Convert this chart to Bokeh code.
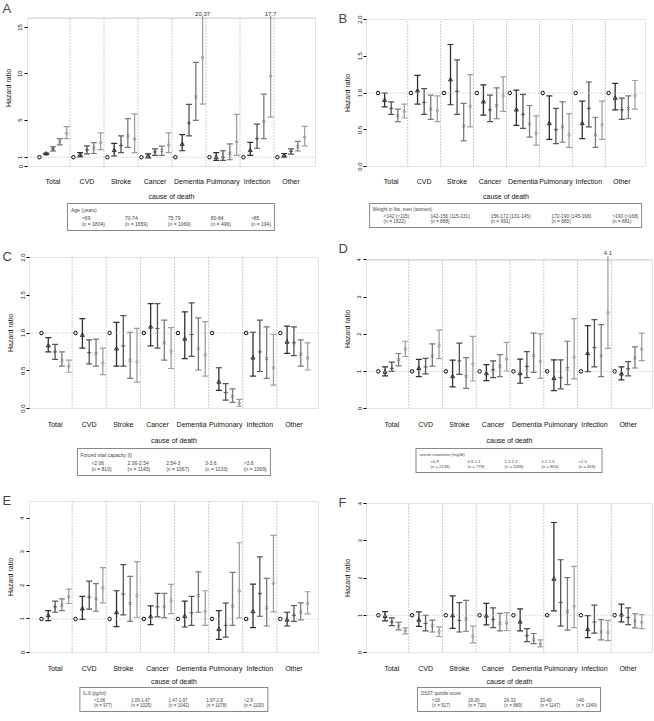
import numpy as np
from bokeh.plotting import figure
from bokeh.layouts import column, row
from bokeh.models import (FixedTicker, Legend, LegendItem, BoxAnnotation, Span,
                          PrintfTickFormatter)
from bokeh.embed import file_html
from bokeh.resources import INLINE
from bokeh.core.properties import value

FONT = "Liberation Sans"
causes = ["Total", "CVD", "Stroke", "Cancer", "Dementia", "Pulmonary", "Infection", "Other"]
COLORS = ["#000000", "#303030", "#555555", "#7a7a7a", "#a0a0a0"]
MARKERS = ["circle", "triangle", "cross", "x", "diamond"]
N = None

# ---------------- Panel A: age ----------------
A_hr = [[1, 1.37, 1.90, 2.67, 3.57], [1, 1.27, 1.80, 1.97, 2.57], [1, 1.73, 2.27, 3.30, 2.97],
        [1, 1.13, 1.57, 1.70, 2.33], [1, 2.40, 4.70, 7.50, 11.73], [1, 0.97, 1.00, 1.43, 2.67],
        [1, 1.73, 3.00, 4.83, 9.73], [1, 1.20, 1.63, 2.17, 3.13]]
A_lo = [[N, 1.30, 1.67, 2.33, 3.00], [N, 1.03, 1.37, 1.40, 1.83], [N, 1.13, 1.50, 2.07, 1.50],
        [N, 0.93, 1.20, 1.20, 1.50], [N, 1.70, 3.30, 4.97, 6.73], [N, 0.67, 0.67, 0.73, 1.20],
        [N, 1.20, 1.97, 3.00, 5.33], [N, 1.00, 1.33, 1.67, 2.23]]
A_hi = [[N, 1.45, 2.13, 3.00, 4.30], [N, 1.50, 2.23, 2.57, 3.63], [N, 2.50, 3.30, 5.17, 5.67],
        [N, 1.37, 1.90, 2.20, 3.63], [N, 3.43, 6.70, 11.23, 20.37], [N, 1.50, 1.70, 2.43, 5.63],
        [N, 2.60, 4.57, 7.80, 17.7], [N, 1.40, 1.90, 2.70, 4.33]]
A_groups = ["<69\n(n = 1804)", "70-74\n(n = 1659)", "75-79\n(n = 1069)", "80-84\n(n = 496)", ">85\n(n = 194)"]
A_title = "Age (years)"
A_ticks = [0, 1, 5, 10, 15]

# ---------------- Panel B: weight ----------------
B_hr = [[1, .90, .79, .69, .75], [1, 1.03, .87, .78, .76], [1, 1.18, 1.02, .55, .82],
        [1, .88, .77, .83, .96], [1, .77, .71, .58, .45], [1, .585, .50, .54, .43],
        [1, .585, .79, .43, .57], [1, .93, .77, .79, .96]]
B_lo = [[N, .81, .71, .61, .66], [N, .85, .71, .64, .61], [N, .84, .71, .35, .54],
        [N, .70, .61, .65, .75], [N, .56, .52, .40, .29], [N, .37, .31, .33, .26],
        [N, .38, .54, .26, .37], [N, .77, .64, .65, .78]]
B_hi = [[N, 1.00, .88, .78, .85], [N, 1.24, 1.06, .97, .96], [N, 1.66, 1.45, .86, 1.25],
        [N, 1.11, .97, 1.07, 1.22], [N, 1.04, .98, .83, .69], [N, .96, .79, .88, .72],
        [N, .89, 1.15, .67, .89], [N, 1.13, .93, .96, 1.17]]
B_groups = ["<142 (<115)\n(n = 1622)", "142-156 (115-131)\n(n = 888)", "156-172 (131-145)\n(n = 991)",
            "172-190 (145-168)\n(n = 880)", ">190 (>168)\n(n = 881)"]
B_title = "Weight in lbs, men (women)"
B_ticks = [0, 0.5, 1.0, 1.5, 2.0]

# ---------------- Panel C: FVC ----------------
C_hr = [[1, .83, .75, .64, .56], [1, .97, .74, .73, .60], [1, .79, .83, .64, .62],
        [1, 1.08, 1.06, .87, .76], [1, .92, .98, .79, .71], [1, .35, .21, .16, .07],
        [1, .67, .75, .66, .54], [1, .88, .87, .72, .67]]
C_lo = [[N, .75, .65, .56, .48], [N, .80, .59, .56, .45], [N, .56, .56, .40, .35],
        [N, .83, .80, .64, .53], [N, .66, .69, .51, .43], [N, .24, .11, .08, .03],
        [N, .43, .49, .40, .31], [N, .73, .70, .56, .51]]
C_hi = [[N, .94, .85, .75, .64], [N, 1.19, .91, .92, .80], [N, 1.14, 1.23, 1.01, 1.06],
        [N, 1.39, 1.39, 1.17, 1.07], [N, 1.28, 1.40, 1.20, 1.15], [N, .54, .33, .26, .12],
        [N, 1.01, 1.17, 1.08, .98], [N, 1.09, 1.08, .91, .87]]
C_groups = ["<2.06\n(n = 810)", "2.06-2.54\n(n = 1143)", "2.54-3\n(n = 1067)", "3-3.6\n(n = 1133)", ">3.6\n(n = 1069)"]
C_title = "Forced vital capacity (l)"
C_ticks = [0, 0.5, 1.0, 1.5, 2.0]

# ---------------- Panel D: creatinine ----------------
D_hr = [[1, .98, 1.08, 1.31, 1.60], [1, 1.08, 1.12, 1.41, 1.69], [1, .86, 1.28, .86, 1.20],
        [1, .94, 1.04, 1.14, 1.33], [1, .94, 1.13, 1.42, 1.27], [1, .81, .83, 1.08, 1.38],
        [1, 1.48, 1.64, 1.42, 2.58], [1, .93, 1.07, 1.36, 1.60]]
D_lo = [[N, .88, 1.00, 1.15, 1.40], [N, .86, .93, 1.14, 1.34], [N, .58, .92, .54, .74],
        [N, .75, .83, .86, 1.01], [N, .68, .83, .97, .81], [N, .48, .53, .64, .80],
        [N, .99, 1.12, .86, 1.62], [N, .77, .88, 1.09, 1.29]]
D_hi = [[N, 1.12, 1.25, 1.48, 1.81], [N, 1.32, 1.35, 1.74, 2.11], [N, 1.30, 1.76, 1.37, 1.94],
        [N, 1.18, 1.28, 1.45, 1.78], [N, 1.33, 1.53, 2.03, 2.01], [N, 1.31, 1.31, 1.81, 2.42],
        [N, 2.23, 2.39, 2.26, 4.1], [N, 1.12, 1.26, 1.66, 2.03]]
D_groups = ["<0.9\n(n = 2138)", "0.9-1.1\n(n = 778)", "1.1-1.2\n(n = 1186)", "1.2-1.5\n(n = 864)", ">1.5\n(n = 458)"]
D_title = "serum creatinine (mg/dl)"
D_ticks = [0, 1, 2, 3, 4]

# ---------------- Panel E: IL-6 ----------------
E_hr = [[1, 1.10, 1.36, 1.41, 1.66], [1, 1.30, 1.65, 1.60, 1.93], [1, 1.19, 1.74, 1.46, 1.70],
        [1, 1.07, 1.36, 1.36, 1.54], [1, 1.08, 1.18, 1.70, 1.22], [1, .69, .81, 1.38, 1.83],
        [1, 1.22, 1.76, 1.33, 2.06], [1, .97, 1.11, 1.20, 1.46]]
E_lo = [[N, .95, 1.20, 1.25, 1.46], [N, .99, 1.29, 1.23, 1.48], [N, .77, 1.12, .93, 1.05],
        [N, .83, 1.06, 1.04, 1.16], [N, .76, .81, 1.20, .81], [N, .39, .46, .81, 1.03],
        [N, .74, 1.08, .79, 1.21], [N, .79, .93, .97, 1.15]]
E_hi = [[N, 1.25, 1.53, 1.60, 1.89], [N, 1.67, 2.13, 2.05, 2.53], [N, 1.84, 2.62, 2.27, 2.71],
        [N, 1.39, 1.76, 1.76, 2.03], [N, 1.53, 1.67, 2.40, 1.84], [N, 1.25, 1.47, 2.39, 3.27],
        [N, 2.04, 2.85, 2.21, 3.49], [N, 1.20, 1.40, 1.48, 1.81]]
E_groups = ["<1.06\n(n = 977)", "1.06-1.47\n(n = 1025)", "1.47-1.97\n(n = 1042)", "1.97-2.9\n(n = 1078)", ">2.9\n(n = 1100)"]
E_title = "IL-6 (pg/ml)"
E_ticks = [0, 1, 2, 3, 4]

# ---------------- Panel F: DSST ----------------
F_hr = [[1, .97, .82, .71, .58], [1, .87, .78, .71, .56], [1, .99, .86, .90, .43],
        [1, .98, .89, .78, .79], [1, .82, .45, .34, .23], [1, 1.97, 1.34, 1.10, 1.24],
        [1, .62, .82, .55, .54], [1, 1.01, .94, .84, .81]]
F_lo = [[N, .85, .72, .61, .50], [N, .70, .58, .55, .43], [N, .65, .55, .57, .26],
        [N, .74, .67, .58, .59], [N, .58, .29, .24, .15], [N, 1.12, .71, .60, .67],
        [N, .40, .52, .34, .32], [N, .82, .75, .66, .64]]
F_hi = [[N, 1.10, .93, .81, .66], [N, 1.09, 1.00, .87, .69], [N, 1.52, 1.34, 1.40, .71],
        [N, 1.32, 1.20, 1.05, 1.07], [N, 1.17, .64, .51, .34], [N, 3.49, 2.49, 2.01, 2.31],
        [N, .99, 1.27, .88, .86], [N, 1.30, 1.20, 1.04, 1.02]]
F_groups = ["<18\n(n = 517)", "18-26\n(n = 720)", "26-33\n(n = 889)", "33-40\n(n = 1147)", ">40\n(n = 1949)"]
F_title = "DSST quintile score"
F_ticks = [0, 1, 2, 3, 4]

X0, X1 = -0.75, 41.6


def make_panel(letter, hr, lo, hi, groups, title, ticks, fmt, ymax, box_top, clip,
               width, height, mbl, mbr, mbt, mbb, loff, lfs, lsp, leg_h, leg_m, xs1, xs2):
    p = figure(width=width, height=height, output_backend="svg", toolbar_location=None,
               x_range=(X0, X1), y_range=(0, ymax),
               min_border_left=mbl, min_border_right=mbr, min_border_top=mbt, min_border_bottom=mbb)
    p.outline_line_color = None
    p.xgrid.visible = False
    p.ygrid.visible = False

    ncat = len(causes)
    sep_x = [c * 5 + 5.5 for c in range(ncat - 1)]
    p.segment(x0=sep_x, y0=[0] * len(sep_x), x1=sep_x, y1=[box_top] * len(sep_x),
              line_color="#9a9a9a", line_dash="1 2", line_width=1)
    p.add_layout(Span(location=1, dimension="width", line_color="#b5b5b5",
                      line_dash="1 2", line_width=1))

    lf = figure(width=width, height=leg_h, output_backend="svg", toolbar_location=None,
                x_range=(0, 1), y_range=(0, 1), x_axis_location=None, y_axis_location=None,
                min_border_left=mbl, min_border_right=mbr, min_border_top=0, min_border_bottom=0)
    lf.outline_line_color = None
    lf.xgrid.visible = False
    lf.ygrid.visible = False

    items = []
    for g in range(5):
        xs = [c * 5 + g + 1 for c in range(ncat)]
        ys = [hr[c][g] for c in range(ncat)]
        col = COLORS[g]
        if g > 0:
            los = [lo[c][g] for c in range(ncat)]
            his = [hi[c][g] for c in range(ncat)]
            tops = [min(h, clip) for h in his]
            p.segment(x0=xs, y0=los, x1=xs, y1=tops, line_color=col, line_width=1.3)
            p.scatter(x=xs, y=los, marker="dash", size=6, line_color=col, line_width=1.2)
            cx = [x for x, h in zip(xs, his) if h <= box_top]
            cy = [h for h in his if h <= box_top]
            p.scatter(x=cx, y=cy, marker="dash", size=6, line_color=col, line_width=1.2)
            ox = [x for x, h in zip(xs, his) if h > box_top]
            ot = [str(h) for h in his if h > box_top]
            if ox:
                p.text(x=ox, y=[clip] * len(ox), text=ot, text_align="center",
                       text_baseline="bottom", text_font_size="6px", text_font=value(FONT),
                       text_color="#333333")
        msize = 3.5 if g == 0 else 4
        p.scatter(x=xs, y=ys, marker=MARKERS[g], size=msize, line_color=col,
                  fill_color=None, line_width=1)
        r = lf.scatter(x=[], y=[], marker=MARKERS[g], size=msize, line_color=col,
                       fill_color=None, line_width=1)
        items.append(LegendItem(label=groups[g], renderers=[r]))

    p.add_layout(BoxAnnotation(top=box_top, fill_color=None, fill_alpha=0,
                               line_color="#444444", line_width=1))

    # axes
    p.yaxis.ticker = FixedTicker(ticks=ticks)
    p.yaxis.bounds = (ticks[0], ticks[-1])
    if fmt:
        p.yaxis.formatter = PrintfTickFormatter(format=fmt)
    p.yaxis.major_label_orientation = "vertical"
    p.yaxis.axis_line_color = None
    p.yaxis.major_tick_out = 3
    p.yaxis.major_tick_in = 0
    p.yaxis.minor_tick_line_color = None
    p.yaxis.major_label_standoff = 2
    p.yaxis.axis_label = "Hazard ratio"
    p.yaxis.axis_label_standoff = 4

    p.xaxis.ticker = FixedTicker(ticks=[c * 5 + 3 for c in range(ncat)])
    p.xaxis.major_label_overrides = {c * 5 + 3: causes[c] for c in range(ncat)}
    p.xaxis.major_tick_line_color = None
    p.xaxis.minor_tick_line_color = None
    p.xaxis.axis_line_color = None
    p.xaxis.major_label_standoff = xs1
    p.xaxis.axis_label = "cause of death"
    p.xaxis.axis_label_standoff = xs2

    p.axis.major_label_text_font = FONT
    p.axis.axis_label_text_font = FONT
    p.axis.axis_label_text_font_style = "normal"
    p.axis.axis_label_text_font_size = "7px"
    p.yaxis.major_label_text_font_size = "6px"
    p.xaxis.major_label_text_font_size = "7px"
    p.axis.major_label_text_color = "#111111"
    p.axis.axis_label_text_color = "#111111"

    leg = Legend(items=items, orientation="horizontal", title=title, location="top_center",
                 label_text_font_size=lfs, label_text_font=FONT,
                 title_text_font_size=lfs, title_text_font_style="normal", title_text_font=FONT,
                 border_line_color="#111111", border_line_width=1.3, padding=3, spacing=lsp,
                 glyph_width=7, glyph_height=7, label_standoff=4, margin=leg_m, title_standoff=2,
                 label_height=8, label_text_line_height=1.1)
    lf.add_layout(leg)

    p.title.text = letter
    p.title.text_font = FONT
    p.title.text_font_size = "13px"
    p.title.text_font_style = "normal"
    p.title.align = "left"
    p.title.vertical_align = "top"
    p.title.offset = loff
    p.title.standoff = -16
    return column(p, lf)


pa = make_panel("A", A_hr, A_lo, A_hi, A_groups, A_title, A_ticks, None, 16.93, 16, 16.26,
                327, 202, 27, 12, 9, 29, -25, "5px", 9, 38, 1, 5, 5)
pb = make_panel("B", B_hr, B_lo, B_hi, B_groups, B_title, B_ticks, "%.1f", 2.0, 2.0, 2.0,
                327, 202, 39, 9, 19, 29, -28, "4.8px", 10, 38, 1, 5, 5)
pc = make_panel("C", C_hr, C_lo, C_hi, C_groups, C_title, C_ticks, "%.1f", 2.0, 2.0, 2.0,
                327, 206, 29, 9, 17, 29, -27, "5px", 5, 34, 2, 6, 6)
pd = make_panel("D", D_hr, D_lo, D_hi, D_groups, D_title, D_ticks, None, 4.28, 4.0, 4.127,
                327, 206, 39, 2, 9, 29, -28, "4.2px", 6, 34, 2, 6, 6)
pe = make_panel("E", E_hr, E_lo, E_hi, E_groups, E_title, E_ticks, None, 4.5, 4.5, 4.5,
                327, 207, 29, 9, 21, 26, -27, "4.5px", 6, 33, 0, 6, 3)
pf = make_panel("F", F_hr, F_lo, F_hi, F_groups, F_title, F_ticks, None, 4.0, 4.0, 4.0,
                327, 207, 39, 2, 23, 26, -28, "4.5px", 5, 33, 0, 6, 3)

layout = column(row(pa, pb), row(pc, pd), row(pe, pf))
open("out.html", "w").write(file_html(layout, INLINE))
